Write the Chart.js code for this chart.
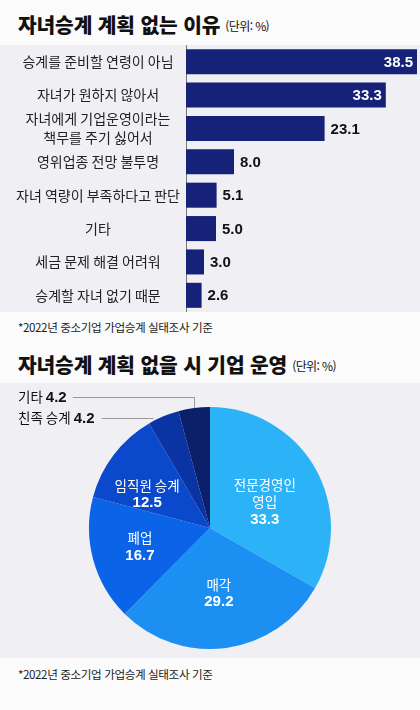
<!DOCTYPE html>
<html lang="ko">
<head>
<meta charset="utf-8">
<script src="https://cdn.jsdelivr.net/npm/chart.js@4.4.1/dist/chart.umd.min.js"></script>
<style>
html,body{margin:0;padding:0;}
body{width:420px;height:710px;background:#fbfbfc;position:relative;overflow:hidden;font-family:'Noto Sans CJK KR',sans-serif;color:#111;}
.title{position:absolute;left:18px;font-weight:800;font-size:20.3px;letter-spacing:-0.1px;line-height:1;white-space:nowrap;color:#111;}
.title span{font-weight:400;font-size:12px;margin-left:5px;letter-spacing:-0.6px;vertical-align:2px;}
.panel{position:absolute;left:0;width:420px;background:#efeff4;}
.note{position:absolute;left:18px;font-size:11.6px;color:#222;letter-spacing:-0.4px;white-space:nowrap;line-height:1;}
canvas{position:absolute;left:0;}
</style>
</head>
<body>
<div class="title" style="top:14px">자녀승계 계획 없는 이유<span>(단위: %)</span></div>
<div class="panel" style="top:45px;height:267px"></div>
<canvas id="c1" width="420" height="267" style="top:45px;width:420px;height:267px"></canvas>
<div class="note" style="top:322px">*2022년 중소기업 가업승계 실태조사 기준</div>

<div class="title" style="top:353.5px">자녀승계 계획 없을 시 기업 운영<span>(단위: %)</span></div>
<div class="panel" style="top:383px;height:275px"></div>
<canvas id="c2" width="420" height="275" style="top:383px;width:420px;height:275px"></canvas>
<div class="note" style="top:669px">*2022년 중소기업 가업승계 실태조사 기준</div>

<script>
// ---- data ----
const reasonLabels = ['승계를 준비할 연령이 아님', '자녀가 원하지 않아서', ['자녀에게 기업운영이라는', '책무를 주기 싫어서'], '영위업종 전망 불투명', '자녀 역량이 부족하다고 판단', '기타', '세금 문제 해결 어려워', '승계할 자녀 없기 때문'];
const reasonValues = [38.5, 33.3, 23.1, 8.0, 5.1, 5.0, 3.0, 2.6];

const planLabels = [['전문경영인', '영입'], '매각', '폐업', '임직원 승계', '친족 승계', '기타'];
const planValues = [33.3, 29.2, 16.7, 12.5, 4.2, 4.2];

// ---- styles / layout ----
const barColor = '#162178';
const pieColors = ['#2cb2f7', '#1b8ff2', '#0b63e7', '#0a48cc', '#0a33a3', '#0c1f6b'];
const inRadius = [0.5, 0.545, 0.6, 0.59];
const inNudge = [5, 0, 0, -9];
const numFont = 'bold 15px "Liberation Sans", Arial, sans-serif';
const krFont = '13.5px "Noto Sans CJK KR", sans-serif';
const tickSize = 14;

const mctx = document.createElement('canvas').getContext('2d');
mctx.font = tickSize + 'px "Noto Sans CJK KR"';
let widest = 0;
reasonLabels.forEach(l => (Array.isArray(l) ? l : [l]).forEach(t => { widest = Math.max(widest, mctx.measureText(t).width); }));
const tickPad = Math.max(2, 186 - 98 - widest / 2);

const barValuePlugin = {
  id: 'barValues',
  afterDatasetsDraw(chart) {
    const ctx = chart.ctx;
    const meta = chart.getDatasetMeta(0);
    ctx.save();
    ctx.font = numFont;
    ctx.textBaseline = 'middle';
    meta.data.forEach((bar, i) => {
      const v = reasonValues[i];
      const txt = v.toFixed(1);
      if (v >= 30) {
        ctx.fillStyle = '#ffffff';
        ctx.textAlign = 'right';
        ctx.fillText(txt, bar.x - 4, bar.y + 1);
      } else {
        ctx.fillStyle = '#111111';
        ctx.textAlign = 'left';
        ctx.fillText(txt, bar.x + 6, bar.y + 1);
      }
    });
    ctx.restore();
  }
};

new Chart(document.getElementById('c1'), {
  type: 'bar',
  data: {
    labels: reasonLabels,
    datasets: [{ data: reasonValues, backgroundColor: barColor, borderWidth: 0, barPercentage: 0.75, categoryPercentage: 1 }]
  },
  options: {
    indexAxis: 'y',
    responsive: false,
    animation: false,
    events: [],
    layout: { padding: 0 },
    plugins: { legend: { display: false }, tooltip: { enabled: false } },
    scales: {
      x: { display: false, min: 0, max: 39 },
      y: {
        grid: { display: false, drawTicks: false },
        border: { display: true, color: '#777', width: 1 },
        ticks: { autoSkip: false, crossAlign: 'center', padding: tickPad, color: '#222', font: { family: '"Noto Sans CJK KR"', size: tickSize, lineHeight: 1.35 } },
        afterFit(s) { s.width = 186; s.paddingTop = 0; s.paddingBottom = 0; }
      }
    }
  },
  plugins: [barValuePlugin]
});

const pieLabelPlugin = {
  id: 'pieLabels',
  afterDatasetsDraw(chart) {
    const ctx = chart.ctx;
    const meta = chart.getDatasetMeta(0);
    meta.data.forEach((arc, i) => {
      const p = arc.getProps(['x', 'y', 'startAngle', 'endAngle', 'outerRadius'], true);
      const mid = (p.startAngle + p.endAngle) / 2;
      const R = p.outerRadius;
      const name = Array.isArray(planLabels[i]) ? planLabels[i] : [planLabels[i]];
      const val = planValues[i].toFixed(1);
      ctx.save();
      ctx.textBaseline = 'middle';
      if (i < 4) {
        const a = mid + inNudge[i] * Math.PI / 180;
        const r = R * inRadius[i];
        const cx = p.x + r * Math.cos(a), cy = p.y + r * Math.sin(a);
        const rows = name.map(t => ({ t, f: krFont })).concat([{ t: val, f: numFont }]);
        const lh = 17.5;
        const y0 = cy - (rows.length - 1) * lh / 2;
        ctx.fillStyle = '#ffffff';
        ctx.textAlign = 'center';
        rows.forEach((row, k) => { ctx.font = row.f; ctx.fillText(row.t, cx, y0 + k * lh); });
      } else {
        const ly = (i === 5) ? p.y - R - 10 : p.y - R + 11;
        const lx = 18;
        ctx.textAlign = 'left';
        ctx.fillStyle = '#111111';
        ctx.font = krFont;
        const s1 = name.join(' ') + ' ';
        ctx.fillText(s1, lx, ly);
        const w1 = ctx.measureText(s1).width;
        ctx.font = numFont;
        ctx.fillText(val, lx + w1, ly + 0.5);
        const endX = lx + w1 + ctx.measureText(val).width;
        ctx.strokeStyle = '#9a9a9a';
        ctx.lineWidth = 1;
        ctx.beginPath();
        if (i === 5) {
          const ex = Math.round(p.x + R * Math.cos(mid)) + 0.5;
          const ey = p.y + R * Math.sin(mid);
          ctx.moveTo(endX + 6, Math.round(ly) + 0.5);
          ctx.lineTo(ex, Math.round(ly) + 0.5);
          ctx.lineTo(ex, ey);
        } else {
          const dy = ly - p.y;
          const ex = p.x - Math.sqrt(Math.max(0, R * R - dy * dy));
          ctx.moveTo(endX + 7, Math.round(ly) + 0.5);
          ctx.lineTo(ex - 6, Math.round(ly) + 0.5);
        }
        ctx.stroke();
      }
      ctx.restore();
    });
  }
};

new Chart(document.getElementById('c2'), {
  type: 'pie',
  data: {
    labels: planLabels,
    datasets: [{ data: planValues, backgroundColor: pieColors, borderWidth: 0 }]
  },
  options: {
    responsive: false,
    animation: false,
    events: [],
    layout: { padding: { top: 24, bottom: 9, left: 0, right: 0 } },
    plugins: { legend: { display: false }, tooltip: { enabled: false } }
  },
  plugins: [pieLabelPlugin]
});
</script>
</body>
</html>
